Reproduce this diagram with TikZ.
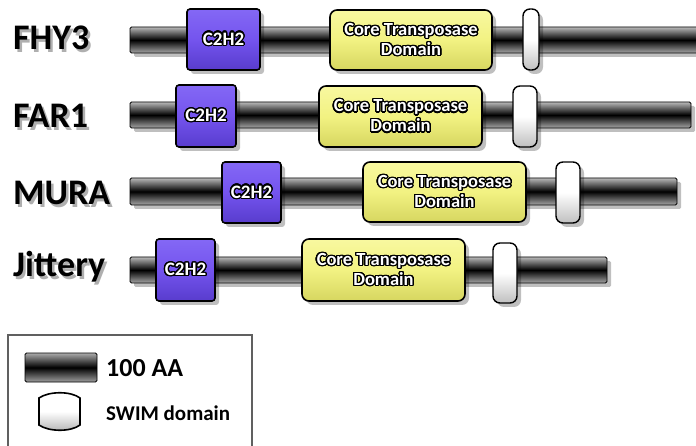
\documentclass[tikz,border=0pt]{standalone}
\usepackage{fontspec}
\setmainfont{Carlito}
\usepackage{contour}
\contourlength{1.3pt}
\contournumber{24}
\usetikzlibrary{shadows}
\definecolor{purpM}{RGB}{116,84,238}
\definecolor{purpL}{RGB}{132,104,245}
\definecolor{purpD}{RGB}{88,60,205}
\definecolor{yelM}{RGB}{242,242,130}
\definecolor{yelL}{RGB}{248,248,160}
\definecolor{yelD}{RGB}{214,214,96}
\definecolor{shadowgray}{RGB}{175,175,175}
\newcommand\wtxt[1]{\contour{black}{\textcolor{white}{#1}}}
\tikzset{
  sh/.style={drop shadow={shadow xshift=4pt, shadow yshift=-4pt, fill=black, opacity=0.25}},
  tube/.style={sh, draw=black, line width=0.9pt, rounded corners=1.5pt, top color=gray!55, bottom color=gray!70, middle color=black, inner sep=0pt},
  zinc/.style={sh, draw=black, line width=1.6pt, rounded corners=3pt, top color=purpL, bottom color=purpD, middle color=purpM, inner sep=0pt, font=\fontsize{19}{21}\selectfont\bfseries},
  core/.style={sh, draw=black, line width=1.6pt, rounded corners=7pt, top color=yelL, bottom color=yelD, middle color=yelM, inner sep=0pt, align=center, font=\fontsize{18.5}{20}\selectfont\bfseries},
  swim/.style={sh, draw=black, line width=1.4pt, rounded corners=7pt, top color=white, bottom color=gray!50, middle color=white, inner sep=0pt},
  lbl/.style={anchor=base west, inner sep=0pt, font=\fontsize{36}{40}\selectfont\bfseries},
  lblsh/.style={lbl, text=shadowgray},
}
\begin{document}
\begin{tikzpicture}[x=1pt,y=-1pt]
\useasboundingbox[fill=white] (0,0) rectangle (696,446);

% ---- labels
\foreach \t/\yy/\n in {FHY3/50/l1, FAR1/128/l2, MURA/205/l3, Jittery/277/l4}{
  \node[lblsh] (\n s) at (15.5,\yy+3) {\t};
  \node[lbl] (\n) at (13,\yy) {\t};
}

% ---- row 1 FHY3
\node[tube, minimum width=572pt, minimum height=26pt] (bar1) at (416,40) {};
\node[zinc, minimum width=73pt, minimum height=61pt] (z1) at (223.5,39.5) {\wtxt{C2H2}};
\node[core, minimum width=162pt, minimum height=60pt] (c1) at (411,40) {\wtxt{Core Transposase}\\\wtxt{Domain}};
\node[swim, minimum width=16pt, minimum height=61pt] (s1) at (531,39.5) {};

% ---- row 2 FAR1
\node[tube, minimum width=561pt, minimum height=26pt] (bar2) at (410.5,115) {};
\node[zinc, minimum width=60pt, minimum height=62pt] (z2) at (206,116) {\wtxt{C2H2}};
\node[core, minimum width=163pt, minimum height=61pt] (c2) at (400.5,116.5) {\wtxt{Core Transposase}\\\wtxt{Domain}};
\node[swim, minimum width=24pt, minimum height=61pt] (s2) at (525,116.5) {};

% ---- row 3 MURA
\node[tube, minimum width=547pt, minimum height=27pt] (bar3) at (403.5,191.5) {};
\node[zinc, minimum width=59pt, minimum height=61pt] (z3) at (251.5,192.5) {\wtxt{C2H2}};
\node[core, minimum width=163pt, minimum height=60pt] (c3) at (444.5,192) {\wtxt{Core Transposase}\\\wtxt{Domain}};
\node[swim, minimum width=24pt, minimum height=61pt] (s3) at (568,192.5) {};

% ---- row 4 Jittery
\node[tube, minimum width=477pt, minimum height=26pt] (bar4) at (368.5,270) {};
\node[zinc, minimum width=59pt, minimum height=62pt] (z4) at (185.5,270) {\wtxt{C2H2}};
\node[core, minimum width=163pt, minimum height=62pt] (c4) at (383.5,270) {\wtxt{Core Transposase}\\\wtxt{Domain}};
\node[swim, minimum width=24pt, minimum height=60pt] (s4) at (505,273) {};

% ---- legend
\draw[gray!75!black, line width=1.2pt, fill=white] (8,335) rectangle (252,470);
\node[draw=black, line width=0.9pt, rounded corners=1.5pt, top color=gray!65, bottom color=gray!75, middle color=black, minimum width=72pt, minimum height=29pt, inner sep=0pt] (legbar) at (61,367.5) {};
\node[anchor=base west, inner sep=0pt, font=\fontsize{26}{28}\selectfont\bfseries] (leg1) at (106,376) {100 AA};
\shade[draw=black, line width=1.6pt, top color=white, bottom color=gray!60, middle color=white]
  (39,398) .. controls (49,391) and (71,391) .. (80,398) -- (80,425)
  .. controls (71,432) and (49,432) .. (39,425) -- cycle;
\node[anchor=base west, inner sep=0pt, font=\fontsize{21}{24}\selectfont\bfseries] (leg2) at (106,420) {SWIM domain};
\end{tikzpicture}
\end{document}
